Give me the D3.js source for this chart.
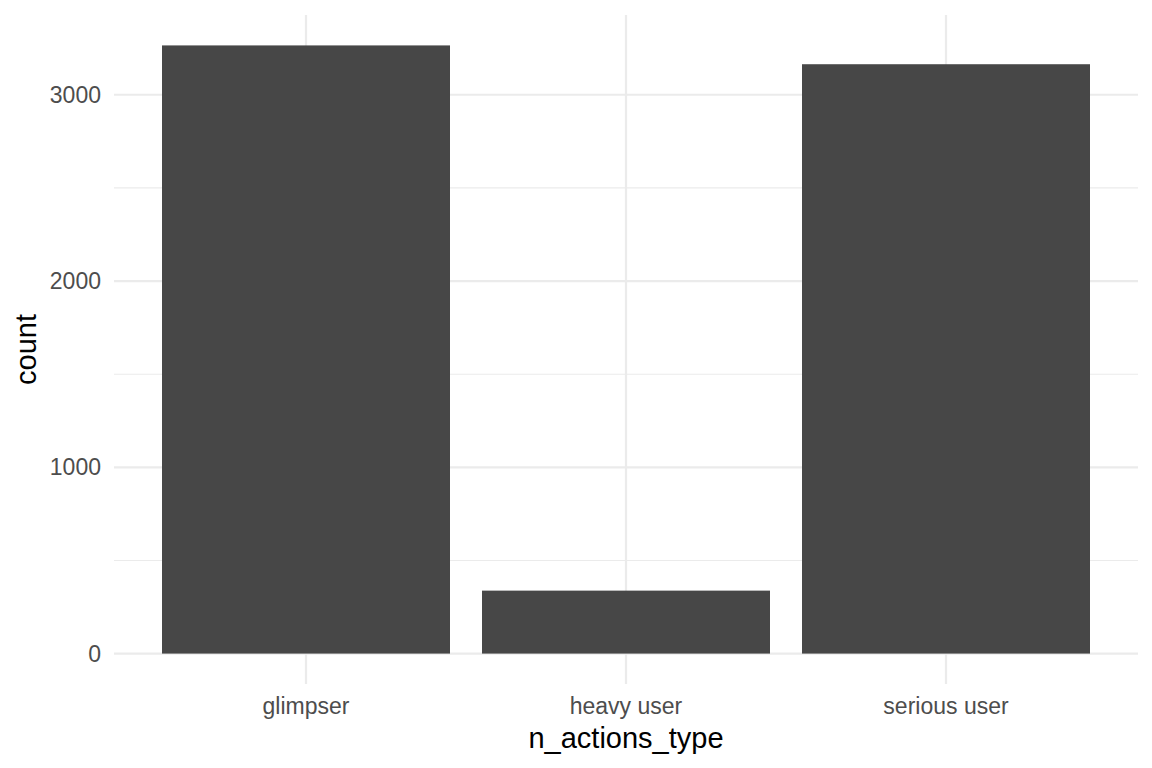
<!doctype html>
<html lang="en">
<head>
<meta charset="UTF-8">
<title>n_actions_type</title>
<style type="text/css">
body {
  margin: 0;
  padding: 0;
  background: #fff;
  font-family: 'Liberation Sans', 'Helvetica', sans-serif;
}
</style>
<script type="text/javascript" src="https://cdn.jsdelivr.net/npm/d3@7"></script>
</head>
<body>
<div id="chart"></div>
<script type="text/javascript">

var categories = ['glimpser', 'heavy user', 'serious user'];
var counts = [3265, 338, 3164];
var yTicks = [0, 1000, 2000, 3000];
var yMinorTicks = [500, 1500, 2500];

var w = 1152;
var h = 768;
var panel = { left: 114, right: 1138, top: 15, bottom: 684 };

var svg = d3.select('#chart')
  .append('svg')
  .attr('width', w)
  .attr('height', h);

// ggplot style: band centres sit 0.6 step from panel edges
var x = d3.scaleBand()
  .domain(categories)
  .range([panel.left, panel.right])
  .paddingInner(0.1)
  .paddingOuter(0.15);

var maxVal = d3.max(counts);
var y = d3.scaleLinear()
  .domain([-0.05 * maxVal, maxVal * 1.05])
  .range([panel.bottom, panel.top]);

// minor grid
svg.selectAll('line.minor')
  .data(yMinorTicks)
  .enter()
  .append('line')
  .attr('class', 'minor')
  .attr('x1', panel.left)
  .attr('x2', panel.right)
  .attr('y1', function(d) { return y(d); })
  .attr('y2', function(d) { return y(d); })
  .attr('stroke', '#ebebeb')
  .attr('stroke-width', 1.1);

// major grid
svg.selectAll('line.major')
  .data(yTicks)
  .enter()
  .append('line')
  .attr('class', 'major')
  .attr('x1', panel.left)
  .attr('x2', panel.right)
  .attr('y1', function(d) { return y(d); })
  .attr('y2', function(d) { return y(d); })
  .attr('stroke', '#ebebeb')
  .attr('stroke-width', 2.2);

svg.selectAll('line.vgrid')
  .data(categories)
  .enter()
  .append('line')
  .attr('class', 'vgrid')
  .attr('x1', function(d) { return x(d) + x.bandwidth() / 2; })
  .attr('x2', function(d) { return x(d) + x.bandwidth() / 2; })
  .attr('y1', panel.top)
  .attr('y2', panel.bottom)
  .attr('stroke', '#ebebeb')
  .attr('stroke-width', 2.2);

// bars
svg.selectAll('rect.bar')
  .data(counts)
  .enter()
  .append('rect')
  .attr('class', 'bar')
  .attr('x', function(d, i) { return x(categories[i]); })
  .attr('width', x.bandwidth())
  .attr('y', function(d) { return y(d); })
  .attr('height', function(d) { return y(0) - y(d); })
  .attr('fill', '#474747');

// y tick labels
svg.selectAll('text.ytick')
  .data(yTicks)
  .enter()
  .append('text')
  .attr('class', 'ytick')
  .attr('x', 101)
  .attr('y', function(d) { return y(d); })
  .attr('dy', '0.35em')
  .attr('text-anchor', 'end')
  .style('font-size', '23px')
  .attr('fill', '#4d4d4d')
  .text(function(d) { return d; });

// x tick labels
svg.selectAll('text.xtick')
  .data(categories)
  .enter()
  .append('text')
  .attr('class', 'xtick')
  .attr('x', function(d) { return x(d) + x.bandwidth() / 2; })
  .attr('y', 714)
  .attr('text-anchor', 'middle')
  .style('font-size', '23px')
  .attr('fill', '#4d4d4d')
  .text(function(d) { return d; });

// axis titles
svg.append('text')
  .attr('x', (panel.left + panel.right) / 2)
  .attr('y', 748)
  .attr('text-anchor', 'middle')
  .style('font-size', '29px')
  .attr('fill', '#000')
  .text('n_actions_type');

svg.append('text')
  .attr('transform', 'translate(36,' + ((panel.top + panel.bottom) / 2) + ') rotate(-90)')
  .attr('text-anchor', 'middle')
  .style('font-size', '29px')
  .attr('fill', '#000')
  .text('count');

</script>
</body>
</html>
